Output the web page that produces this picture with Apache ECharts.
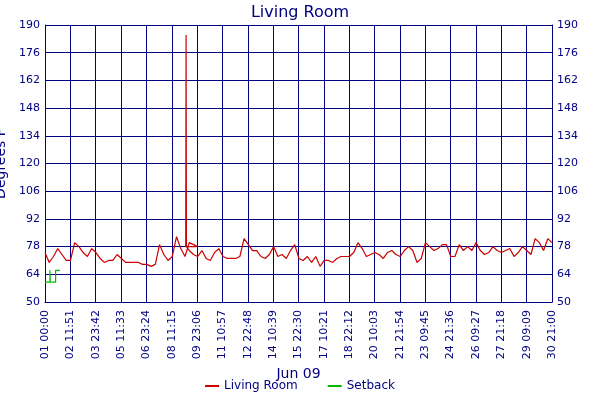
<!DOCTYPE html>
<html><head><meta charset="utf-8">
<script src="https://cdn.jsdelivr.net/npm/echarts@6/dist/echarts.min.js"></script>
<style>body{margin:0}#c{width:600px;height:400px}</style></head>
<body><div id="c"></div>
<script>
// hours from Jun 01 00:00, readings every 6 hours
var stepHours = 6;
var roomStart = [75,70,73,77,74,71,71,80,78,75,73,77,75,72,70,71,71,74,72,70,70,70,70,69,69,68,69,79,74,71,73,83,77,73,80,79,78];
var spike = [[199,78],[199.5,185],[200,78]];
var roomEnd = [76,74,73,76,72,71,75,77,73,72,72,72,73,82,79,76,76,73,72,74,78,73,74,72,76,79,72,71,73,70,73,68,71,71,70,72,73,73,73,75,80,77,73,74,75,74,72,75,76,74,73,76,78,76,70,72,80,78,76,77,79,79,73,73,79,76,78,76,80,76,74,75,78,76,75,76,77,73,75,78,76,74,82,80,76,82,80];
var setback = [[0,60],[7,60],[7,66],[7.5,66],[7.5,60],[15,60],[15,66],[21,66]];

var living = roomStart.map(function(v,i){return [i*stepHours, v];});
living = living.concat(spike);
var endStart = 204;
var endStep = (717-endStart)/(roomEnd.length-1);
roomEnd.forEach(function(v,i){ living.push([endStart + i*endStep, v]); });

function pad(n){return (n<10?'0':'')+n;}
function fmt(h){
  var m = Math.round(h*60);
  var d = Math.floor(m/1440)+1; m = m%1440;
  return pad(d)+' '+pad(Math.floor(m/60))+':'+pad(m%60);
}
var blue = '#000080';
var chart = echarts.init(document.getElementById('c'));
chart.setOption({
  animation:false,
  textStyle:{fontFamily:'DejaVu Sans'},
  title:{text:'Living Room',left:'center',top:0,textStyle:{color:blue,fontSize:16,fontWeight:'normal',fontFamily:'DejaVu Sans'}},
  legend:{bottom:3,itemWidth:14,itemHeight:2,icon:'rect',itemGap:30,textStyle:{color:blue,fontSize:12},
    data:['Living Room','Setback']},
  grid:{left:45,right:48,top:25,bottom:98,containLabel:false,outerBoundsMode:'none'},
  xAxis:{type:'value',min:0,max:717,interval:35.85,name:'Jun 09',nameLocation:'middle',nameGap:64,
    nameTextStyle:{color:blue,fontSize:14},
    axisLine:{lineStyle:{color:blue}},axisTick:{show:false},
    splitLine:{lineStyle:{color:blue,width:1}},
    axisLabel:{rotate:90,color:blue,fontSize:11,formatter:fmt,showMaxLabel:true}},
  yAxis:[
    {type:'value',min:50,max:190,interval:14,name:'Degrees F',nameLocation:'middle',nameGap:28,
     nameTextStyle:{color:blue,fontSize:14},
     axisLine:{show:true,lineStyle:{color:blue}},axisTick:{show:false},
     splitLine:{lineStyle:{color:blue}},axisLabel:{color:blue,fontSize:11,margin:5}},
    {type:'value',min:50,max:190,interval:14,position:'right',
     axisLine:{show:true,lineStyle:{color:blue}},axisTick:{show:false},
     splitLine:{show:false},axisLabel:{color:blue,fontSize:11,margin:5}}
  ],
  series:[
    {name:'Living Room',type:'line',data:living,showSymbol:false,lineStyle:{color:'#cc0000',width:1.2},itemStyle:{color:'#cc0000'}},
    {name:'Setback',type:'line',data:setback,showSymbol:false,lineStyle:{color:'#00bb00',width:1.2},itemStyle:{color:'#00bb00'}}
  ]
});
</script></body></html>
